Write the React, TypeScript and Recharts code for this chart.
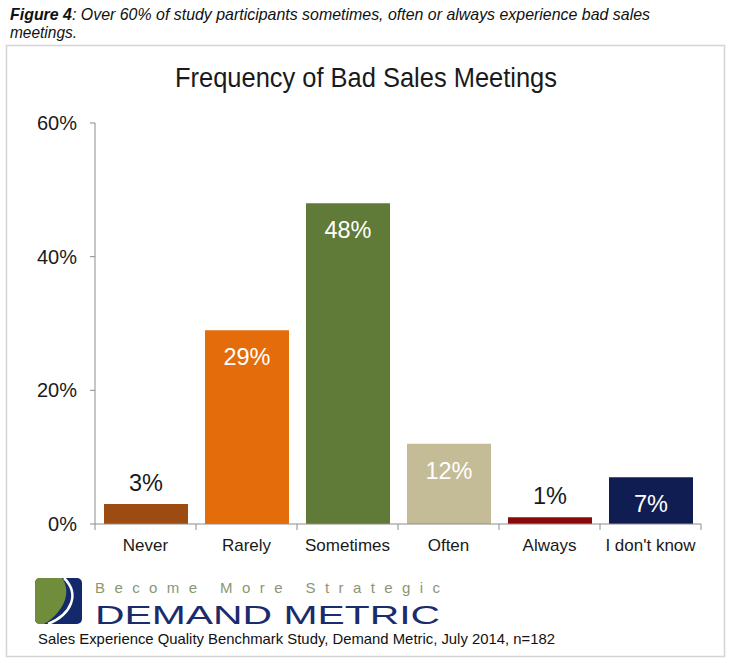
import { BarChart, Bar, XAxis, YAxis, Cell, LabelList } from 'recharts';

const categories = ['Never', 'Rarely', 'Sometimes', 'Often', 'Always', "I don't know"];
const shares = [3, 29, 48, 12, 1, 7];
const yTicks = [0, 20, 40, 60];

const BAR_COLORS = ['#9c4b13', '#e46c0a', '#5f7b37', '#c4bc96', '#8a0a0a', '#0f1d52'];
const FONT = "Arial, 'Liberation Sans', Helvetica, sans-serif";
const AXIS_COLOR = '#8c8c8c';
const TEXT_COLOR = '#1a1a1a';

const data = categories.map((category, i) => ({ category, share: shares[i] }));

const CategoryTick = (props: any) => {
  const { x, y, payload, index, visibleTicksCount } = props;
  const half = payload.offset ?? 0;
  const axisY = y - 8;
  const isLast = index === visibleTicksCount - 1;
  return (
    <g>
      <line x1={x - half} x2={x - half} y1={axisY} y2={axisY + 6} stroke={AXIS_COLOR} />
      {isLast && <line x1={x + half} x2={x + half} y1={axisY} y2={axisY + 6} stroke={AXIS_COLOR} />}
      <text x={x} y={axisY + 27} textAnchor="middle" fontSize={17} fontFamily={FONT} fill={TEXT_COLOR}>
        {payload.value}
      </text>
    </g>
  );
};

const ShareLabel = (props: any) => {
  const { x, y, width, value } = props;
  const cx = x + width / 2;
  // small bars get their label above, the rest inside near the top
  if (value < 5) {
    return (
      <text x={cx} y={y - 13} textAnchor="middle" fontSize={23.5} fontFamily={FONT} fill={TEXT_COLOR}>
        {`${value}%`}
      </text>
    );
  }
  return (
    <text x={cx} y={y + 35} textAnchor="middle" fontSize={23.5} fontFamily={FONT} fill="#ffffff">
      {`${value}%`}
    </text>
  );
};

export default function App() {
  return (
    <div
      style={{
        position: 'absolute',
        left: 0,
        top: 0,
        width: 730,
        height: 663,
        background: '#ffffff',
        overflow: 'hidden',
      }}
    >
      <svg width={730} height={663} style={{ position: 'absolute', left: 0, top: 0 }}>
        <text x={10} y={20} fontSize={16.5} fontStyle="italic" fontFamily={FONT} fill="#111" textLength={640} lengthAdjust="spacingAndGlyphs">
          <tspan fontWeight="bold">Figure 4</tspan>: Over 60% of study participants sometimes, often or always experience bad sales
        </text>
        <text x={10} y={38} fontSize={16.5} fontStyle="italic" fontFamily={FONT} fill="#111" textLength={67} lengthAdjust="spacingAndGlyphs">
          meetings.
        </text>
        <rect x={6.5} y={45.5} width={718} height={611} fill="none" stroke="#d4d4d4" strokeWidth={1.5} />
        <text x={366} y={87} textAnchor="middle" fontSize={27.5} fontFamily={FONT} fill={TEXT_COLOR} textLength={382} lengthAdjust="spacingAndGlyphs">
          Frequency of Bad Sales Meetings
        </text>

        {/* logo */}
        <rect x={35} y={578} width={47} height={46} rx={5} fill="#14296b" />
        <path d="M35,583 Q35,578 40,578 L62,578 C72,592 64,612 44,624 L40,624 Q35,624 35,619 Z" fill="#6f8d3a" />
        <path d="M64,578 C80,594 72,614 48,624" fill="none" stroke="#ffffff" strokeWidth={2.5} />
        <text x={95} y={593} fontSize={15} fontFamily={FONT} fill="#8a9673" textLength={345} lengthAdjust="spacing">
          Become More Strategic
        </text>
        <text x={95} y={624} fontSize={26} fontFamily={FONT} fill="#1b2c6c" textLength={345} lengthAdjust="spacingAndGlyphs">
          DEMAND METRIC
        </text>
        <text x={38} y={644} fontSize={14.5} fontFamily={FONT} fill="#111" textLength={517} lengthAdjust="spacingAndGlyphs">
          Sales Experience Quality Benchmark Study, Demand Metric, July 2014, n=182
        </text>
      </svg>

      <div style={{ position: 'absolute', left: 0, top: 0 }}>
        <BarChart
          width={730}
          height={663}
          data={data}
          margin={{ top: 123, right: 29, bottom: 99, left: 0 }}
          barSize={84}
        >
          <XAxis
            dataKey="category"
            axisLine={{ stroke: AXIS_COLOR }}
            tickLine={false}
            tickSize={6}
            tickMargin={2}
            interval={0}
            tick={<CategoryTick />}
            height={40}
          />
          <YAxis
            width={95}
            domain={[0, 60]}
            ticks={yTicks}
            tickFormatter={(v: number) => `${v}%`}
            axisLine={{ stroke: AXIS_COLOR }}
            tickLine={{ stroke: AXIS_COLOR }}
            tickSize={5}
            tickMargin={13}
            tick={{ fontSize: 20, fontFamily: FONT, fill: TEXT_COLOR }}
          />
          <Bar dataKey="share" isAnimationActive={false}>
            {data.map((d, i) => (
              <Cell key={d.category} fill={BAR_COLORS[i]} />
            ))}
            <LabelList dataKey="share" content={<ShareLabel />} />
          </Bar>
        </BarChart>
      </div>
    </div>
  );
}
